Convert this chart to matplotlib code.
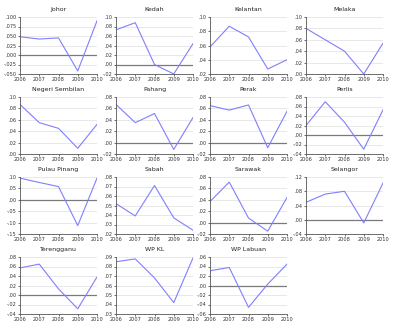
import numpy as np
import matplotlib
matplotlib.use("Agg")
import matplotlib.pyplot as plt
from matplotlib.ticker import FuncFormatter

years = [2006, 2007, 2008, 2009, 2010]

states = ["Johor", "Kedah", "Kelantan", "Melaka",
          "Negeri Sembilan", "Pahang", "Perak", "Perlis",
          "Pulau Pinang", "Sabah", "Sarawak", "Selangor",
          "Terengganu", "WP KL", "WP Labuan"]

johor = [0.048, 0.042, 0.045, -0.042, 0.090]
kedah = [0.073, 0.088, 0.000, -0.020, 0.044]
kelantan = [0.058, 0.087, 0.072, 0.027, 0.040]
melaka = [0.080, 0.060, 0.040, 0.000, 0.054]
negeri_sembilan = [0.087, 0.055, 0.045, 0.010, 0.052]
pahang = [0.067, 0.035, 0.051, -0.012, 0.044]
perak = [0.065, 0.057, 0.066, -0.009, 0.055]
perlis = [0.020, 0.070, 0.027, -0.030, 0.053]
pulau_pinang = [0.095, 0.076, 0.058, -0.113, 0.095]
sabah = [0.052, 0.039, 0.071, 0.037, 0.024]
sarawak = [0.037, 0.071, 0.008, -0.015, 0.044]
selangor = [0.049, 0.072, 0.080, -0.009, 0.103]
terengganu = [0.057, 0.065, 0.013, -0.029, 0.038]
wp_kl = [0.085, 0.088, 0.068, 0.042, 0.089]
wp_labuan = [0.031, 0.038, -0.046, 0.003, 0.045]

series = [johor, kedah, kelantan, melaka, negeri_sembilan, pahang, perak,
          perlis, pulau_pinang, sabah, sarawak, selangor, terengganu,
          wp_kl, wp_labuan]

# y-axis range per panel: (min, max, step, decimals)
y_ranges = [(-0.050, 0.100, 0.025, 3), (-0.02, 0.10, 0.02, 2),
            (0.02, 0.10, 0.02, 2), (0.00, 0.10, 0.02, 2),
            (0.00, 0.10, 0.02, 2), (-0.02, 0.08, 0.02, 2),
            (-0.02, 0.08, 0.02, 2), (-0.04, 0.08, 0.02, 2),
            (-0.15, 0.10, 0.05, 2), (0.02, 0.08, 0.01, 2),
            (-0.02, 0.08, 0.02, 2), (-0.04, 0.12, 0.04, 2),
            (-0.04, 0.08, 0.02, 2), (0.03, 0.09, 0.01, 2),
            (-0.06, 0.06, 0.02, 2)]

W, H = 395, 330
fig = plt.figure(figsize=(W / 100, H / 100), dpi=100)

col_left = [20, 116, 210, 306]
ax_w = 77
row_top = [17, 97, 177, 257]
ax_h = 57

line_color = "#7f7fff"


def make_fmt(dec):
    def f(v, pos):
        s = f"{abs(v):.{dec}f}"
        if s.startswith("0"):
            s = s[1:]
        if v < -1e-9 and float(s) != 0:
            s = "-" + s
        return s
    return f


for i, (name, vals, yr) in enumerate(zip(states, series, y_ranges)):
    r, c = divmod(i, 4)
    left = col_left[c] / W
    bottom = 1 - (row_top[r] + ax_h) / H
    ax = fig.add_axes([left, bottom, ax_w / W, ax_h / H])
    ymin, ymax, step, dec = yr
    ticks = np.round(np.arange(ymin, ymax + step / 2, step), 4)
    ax.set_ylim(ymin, ymax)
    ax.set_xlim(years[0], years[-1])
    ax.set_yticks(ticks)
    ax.set_xticks(years)
    ax.yaxis.set_major_formatter(FuncFormatter(make_fmt(dec)))
    for t in ticks:
        ax.axhline(t, color="#e4e4e4", lw=0.6, zorder=0)
    if ymin < 0 < ymax:
        ax.axhline(0, color="#7a7a7a", lw=0.9, zorder=1)
    ax.plot(years, vals, color=line_color, lw=0.8, zorder=2)
    for s in ["top", "right"]:
        ax.spines[s].set_visible(False)
    for s in ["left", "bottom"]:
        ax.spines[s].set_color("#555555")
        ax.spines[s].set_linewidth(0.6)
    ax.tick_params(labelsize=3.6, length=1.5, width=0.5, pad=1,
                   colors="#333333")
    ax.set_title(name, fontsize=4.5, pad=4, color="#222222")

fig.savefig("out.png", dpi=100)
